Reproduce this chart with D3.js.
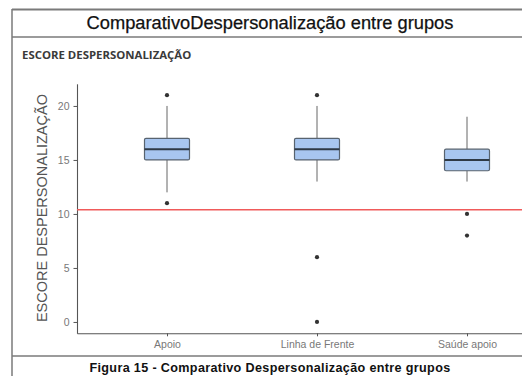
<!DOCTYPE html>
<html>
<head>
<meta charset="utf-8">
<script src="https://cdn.jsdelivr.net/npm/d3@7"></script>
<style>
  body { margin: 0; background: #fff; }
  svg { display: block; }
</style>
</head>
<body>
<div id="chart"></div>
<script>
// group summaries
const categories = ["Apoio", "Linha de Frente", "Saúde apoio"];
const q1 = [15, 15, 14];
const medians = [16, 16, 15];
const q3 = [17, 17, 16];
const whiskerLow = [12, 13, 13];
const whiskerHigh = [20, 20, 19];
const outliers = [[21, 11], [21, 6, 0], [10, 8]];
const refLine = 10.4;
const yTicks = [0, 5, 10, 15, 20];

const W = 522, H = 376;

const svg = d3.select("#chart")
  .append("svg")
    .attr("width", W)
    .attr("height", H);

// frame around the figure
const frame = svg.append("g")
  .attr("fill", "none")
  .attr("stroke", "#7a7a7a")
  .attr("stroke-width", 1.5);
frame.append("line").attr("x1", 12).attr("x2", W).attr("y1", 9.5).attr("y2", 9.5).attr("stroke-width", 2);
frame.append("line").attr("x1", 12).attr("x2", W).attr("y1", 37).attr("y2", 37);
frame.append("line").attr("x1", 12).attr("x2", W).attr("y1", 356).attr("y2", 356);
frame.append("line").attr("x1", 12).attr("x2", 12).attr("y1", 9).attr("y2", H);

svg.append("text")
  .attr("x", 270)
  .attr("y", 29)
  .attr("text-anchor", "middle")
  .style("font-family", "Liberation Sans, Arial, sans-serif")
  .style("font-size", "18.3px")
  .attr("fill", "#111")
  .attr("stroke", "#111")
  .attr("stroke-width", 0.25)
  .text("ComparativoDespersonalização entre grupos");

svg.append("text")
  .attr("x", 22)
  .attr("y", 59)
  .style("font-family", "Open Sans, sans-serif")
  .style("font-weight", "bold")
  .style("font-size", "11.4px")
  .attr("fill", "#3a3a3a")
  .text("ESCORE DESPERSONALIZAÇÃO");

svg.append("text")
  .attr("x", 270)
  .attr("y", 372)
  .attr("text-anchor", "middle")
  .style("font-family", "Liberation Sans, Arial, sans-serif")
  .style("font-weight", "bold")
  .style("font-size", "12.6px")
  .style("letter-spacing", "0.35px")
  .attr("fill", "#111")
  .text("Figura 15 - Comparativo Despersonalização entre grupos");

// scales
const x = d3.scalePoint()
  .domain(categories)
  .range([77, 557])
  .padding(0.6);

const y = d3.scaleLinear()
  .domain([-1.05, 22.05])
  .range([333.3, 83.8]);

const xAxis = d3.axisBottom(x).tickSize(3).tickPadding(4).tickSizeOuter(0);
const yAxis = d3.axisLeft(y).tickValues(yTicks).tickSize(3.5).tickPadding(4).tickSizeOuter(0);

const xAxisG = svg.append("g")
  .attr("transform", `translate(0,${y.range()[0]})`)
  .call(xAxis);
const yAxisG = svg.append("g")
  .attr("transform", "translate(77,0)")
  .call(yAxis);

[xAxisG, yAxisG].forEach(g => {
  g.select(".domain").attr("stroke", "#555").attr("stroke-width", 1.1);
  g.selectAll(".tick line").attr("stroke", "#555");
  g.selectAll(".tick text")
    .attr("fill", "#787878")
    .style("font-family", "Liberation Sans, Arial, sans-serif")
    .style("font-size", "10.5px");
});

svg.append("text")
  .attr("transform", `translate(47,${(y(-1.05) + y(22.05)) / 2 - 0.5}) rotate(-90)`)
  .attr("text-anchor", "middle")
  .style("font-family", "Liberation Sans, Arial, sans-serif")
  .style("font-size", "14.5px")
  .attr("fill", "#555")
  .text("ESCORE DESPERSONALIZAÇÃO");

// reference line
svg.append("line")
  .attr("x1", 77)
  .attr("x2", W)
  .attr("y1", y(refLine))
  .attr("y2", y(refLine))
  .attr("stroke", "#f05a5a")
  .attr("stroke-width", 1.5);

// boxes
const boxW = x.step() * 0.3;
const groups = svg.append("g")
  .selectAll("g")
  .data(categories)
  .join("g")
    .attr("transform", d => `translate(${x(d)},0)`);

groups.append("line")
  .attr("y1", (d, i) => y(whiskerHigh[i]))
  .attr("y2", (d, i) => y(q3[i]))
  .attr("stroke", "#666")
  .attr("stroke-width", 1);
groups.append("line")
  .attr("y1", (d, i) => y(q1[i]))
  .attr("y2", (d, i) => y(whiskerLow[i]))
  .attr("stroke", "#666")
  .attr("stroke-width", 1);

groups.append("rect")
  .attr("x", -boxW / 2)
  .attr("width", boxW)
  .attr("y", (d, i) => y(q3[i]))
  .attr("height", (d, i) => y(q1[i]) - y(q3[i]))
  .attr("rx", 1.5)
  .attr("fill", "#a8c6f0")
  .attr("stroke", "#58636f")
  .attr("stroke-width", 1.2);

groups.append("line")
  .attr("x1", -boxW / 2)
  .attr("x2", boxW / 2)
  .attr("y1", (d, i) => y(medians[i]))
  .attr("y2", (d, i) => y(medians[i]))
  .attr("stroke", "#2e3946")
  .attr("stroke-width", 2);

groups.selectAll("circle")
  .data((d, i) => outliers[i])
  .join("circle")
    .attr("cy", v => y(v))
    .attr("r", 2.1)
    .attr("fill", "#333");
</script>
</body>
</html>
